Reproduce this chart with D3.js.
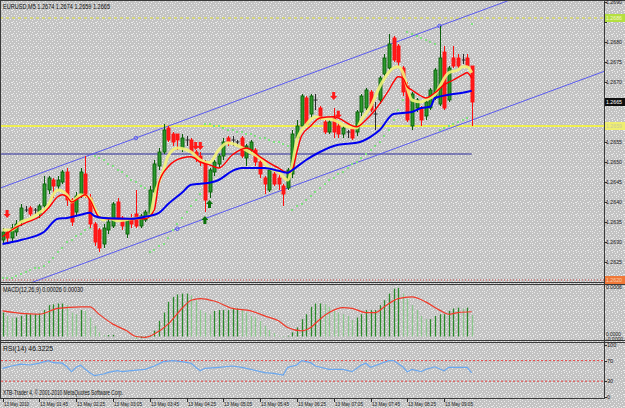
<!DOCTYPE html>
<html>
<head>
<meta charset="utf-8">
<script src="https://cdn.jsdelivr.net/npm/d3@7"></script>
<style>
body{margin:0;padding:0;background:#c4c4c4;}
svg{display:block;}
text{font-family:"Liberation Sans",Arial,sans-serif;}
</style>
</head>
<body>
<div id="chart"></div>
<script>
// ---- data (EURUSD M5, 13 May 2010) ----
var open = [1.26305,1.26325,1.2631,1.26325,1.2635,1.2638,1.26385,1.2638,1.2637,1.2639,
1.2643,1.26455,1.2644,1.2645,1.26475,1.26405,1.26375,1.2642,1.2647,1.2641,
1.26345,1.2633,1.26295,1.2633,1.2634,1.264,1.2636,1.2632,1.2636,1.2637,
1.2634,1.26355,1.2637,1.26425,1.2649,1.26525,1.26585,1.2657,1.2657,1.26535,
1.26555,1.26555,1.26525,1.26515,1.265,1.26425,1.26475,1.26495,1.26515,1.2656,
1.26555,1.2655,1.2656,1.2651,1.2653,1.2653,1.265,1.2646,1.2643,1.2647,
1.2646,1.2644,1.26435,1.2647,1.2656,1.2659,1.2666,1.2662,1.26655,1.26635,
1.266,1.26575,1.2661,1.2659,1.2657,1.26575,1.26585,1.26575,1.26625,1.26635,
1.26675,1.2662,1.26655,1.2672,1.26735,1.2681,1.2679,1.26735,1.2669,1.2659,
1.26635,1.26635,1.26615,1.26635,1.2666,1.26645,1.26775,1.26655,1.2676,1.2676,
1.26755,1.2676,1.2674];
var high = [1.26335,1.2633,1.26345,1.26355,1.26395,1.2639,1.2639,1.26385,1.26395,1.26465,
1.26465,1.2646,1.26465,1.2648,1.26485,1.2641,1.26425,1.26485,1.26515,1.2642,
1.2635,1.26335,1.26345,1.2636,1.264,1.2641,1.26365,1.2636,1.2637,1.2643,
1.2637,1.2638,1.2644,1.26505,1.26535,1.26595,1.2659,1.26575,1.2657,1.2657,
1.26565,1.2656,1.2653,1.26525,1.26505,1.26485,1.26505,1.2652,1.2656,1.26565,
1.26565,1.26555,1.26565,1.26545,1.26555,1.26535,1.26505,1.26465,1.26485,1.26475,
1.2647,1.26445,1.26485,1.2658,1.26605,1.2667,1.26665,1.2667,1.2667,1.2664,
1.26605,1.26605,1.26635,1.266,1.2659,1.2658,1.2659,1.2663,1.2667,1.26685,
1.2668,1.2665,1.26715,1.2677,1.2682,1.26815,1.26795,1.2674,1.267,1.26675,
1.2666,1.2664,1.26655,1.26685,1.26735,1.2684,1.2679,1.2674,1.2679,1.2677,
1.2677,1.2677,1.2674];
var low = [1.26295,1.263,1.263,1.26315,1.2634,1.26375,1.26365,1.2637,1.2636,1.2638,
1.2642,1.2641,1.2643,1.26445,1.2639,1.2634,1.26365,1.2641,1.2641,1.26335,
1.2629,1.26275,1.26285,1.2632,1.26335,1.26355,1.2633,1.2631,1.26335,1.26335,
1.26335,1.2635,1.26365,1.2642,1.2648,1.2652,1.2655,1.2654,1.2653,1.26525,
1.2654,1.2652,1.265,1.2649,1.26375,1.2641,1.26465,1.26485,1.26505,1.2654,
1.2654,1.2654,1.2651,1.2649,1.26525,1.2649,1.2646,1.2642,1.26425,1.2644,
1.2643,1.2639,1.2643,1.2646,1.26555,1.2659,1.2659,1.2661,1.2663,1.26605,
1.2657,1.2657,1.2656,1.2656,1.2656,1.2656,1.26555,1.26565,1.26615,1.2663,
1.26625,1.2658,1.26645,1.2671,1.2673,1.2675,1.2674,1.26665,1.266,1.2658,
1.26625,1.2659,1.26605,1.2663,1.26655,1.2664,1.2663,1.2665,1.26735,1.26735,
1.26745,1.26735,1.2659];
var close = [1.26325,1.2631,1.26335,1.26345,1.26385,1.2638,1.2637,1.2638,1.2639,1.26445,
1.2646,1.2644,1.26455,1.26475,1.26405,1.2635,1.26415,1.26475,1.2642,1.26345,
1.263,1.26285,1.26335,1.2635,1.26395,1.2636,1.2634,1.26355,1.26345,1.2634,
1.26365,1.26375,1.2643,1.26495,1.26525,1.2658,1.26555,1.2655,1.26555,1.2656,
1.26555,1.26525,1.2651,1.265,1.26405,1.2648,1.265,1.26515,1.2655,1.2655,
1.26555,1.2655,1.26515,1.2654,1.2655,1.265,1.2647,1.26445,1.2648,1.26445,
1.26445,1.2642,1.2648,1.2657,1.2659,1.26665,1.26595,1.26665,1.26655,1.2661,
1.26575,1.266,1.26575,1.2657,1.26585,1.26575,1.2656,1.26625,1.26665,1.2668,
1.2663,1.2662,1.2671,1.2676,1.26795,1.26755,1.2675,1.26675,1.26605,1.2667,
1.26655,1.26605,1.2665,1.2668,1.2673,1.2676,1.26635,1.26735,1.2674,1.2674,
1.26755,1.2674,1.2665];

// moving averages, [bar, price] read at the bends
var maFast = [[0,1.2633],[2,1.2633],[4,1.2635],[6,1.26358],[8,1.26373],[10,1.26393],[11,1.26418],[12,1.2643],[14,1.26418],[15,1.264],[17,1.26418],[19,1.2641],[20,1.26385],[22,1.26355],[23,1.2636],[25,1.26353],[28,1.26358],[32,1.26363],[33,1.26415],[35,1.2648],[36,1.26515],[38,1.26535],[41,1.26525],[43,1.26505],[45,1.26498],[47,1.2653],[49,1.26548],[54,1.26523],[56,1.2651],[58,1.26485],[60,1.26475],[62,1.26455],[63,1.26493],[64,1.26555],[66,1.26593],[68,1.26613],[69,1.2661],[72,1.26605],[75,1.26588],[77,1.26585],[78,1.26605],[80,1.26638],[82,1.26688],[84,1.26725],[85,1.26735],[86,1.26738],[87,1.26725],[88,1.26685],[89,1.26655],[91,1.2665],[92,1.26655],[94,1.26668],[95,1.26688],[97,1.26723],[99,1.2673],[100,1.26738],[101,1.26738],[102,1.26723]];
var maMid = [[0,1.26313],[2,1.2633],[5,1.26348],[8,1.26363],[10,1.26385],[12,1.26413],[13,1.26418],[14,1.26413],[15,1.264],[17,1.26413],[18,1.26418],[19,1.26405],[21,1.26363],[23,1.26358],[28,1.26358],[31,1.26358],[33,1.2638],[34,1.26448],[36,1.26488],[39,1.2651],[41,1.26513],[43,1.265],[45,1.26493],[47,1.26485],[50,1.26518],[53,1.26535],[56,1.26513],[58,1.26498],[60,1.26485],[62,1.26473],[63,1.2648],[64,1.26525],[65,1.26565],[67,1.2659],[69,1.2661],[72,1.26613],[77,1.26588],[79,1.26605],[81,1.2663],[84,1.2668],[85,1.267],[86,1.26713],[87,1.2671],[88,1.26688],[89,1.2668],[91,1.26665],[92,1.2666],[94,1.26673],[96,1.26693],[98,1.26705],[100,1.26718],[101,1.26723],[102,1.2671]];
var maSlow = [[0,1.26295],[4,1.26305],[9,1.26325],[12,1.26358],[14,1.2636],[17,1.26368],[19,1.26373],[20,1.26365],[22,1.2636],[28,1.26358],[31,1.26363],[34,1.26373],[36,1.26395],[39,1.26423],[41,1.26443],[45,1.26448],[47,1.26455],[50,1.26478],[52,1.26485],[57,1.26485],[60,1.26478],[62,1.26473],[63,1.2648],[66,1.26505],[69,1.26525],[73,1.26543],[77,1.26548],[80,1.26563],[82,1.2658],[85,1.2662],[89,1.26625],[91,1.26635],[93,1.26638],[94,1.2666],[97,1.26668],[100,1.26673],[102,1.26678]];

// parabolic SAR, one per bar
var sar = [1.2621,1.2621,1.2621,1.26215,1.2622,1.26225,1.2623,1.26235,1.26235,1.2624,
1.2625,1.2626,1.26275,1.26285,1.263,1.26305,1.26315,1.2632,1.2633,1.26335,
1.26515,1.2651,1.26505,1.26495,1.2649,1.2648,1.26475,1.26465,1.26455,1.2645,
1.2644,1.26435,1.26275,1.2628,1.2629,1.26295,1.2631,1.2633,1.26345,1.2636,
1.26375,1.2639,1.26405,1.2642,1.26595,1.26595,1.2659,1.2659,1.26585,1.2658,
1.2658,1.26575,1.26575,1.2657,1.2657,1.26565,1.2656,1.2656,1.26555,1.2655,
1.2655,1.26545,1.2654,1.2638,1.2639,1.26395,1.26405,1.26415,1.26425,1.26435,
1.26445,1.26455,1.2646,1.2647,1.26475,1.26485,1.26495,1.265,1.2651,1.2652,
1.2653,1.2654,1.2655,1.26565,1.2658,1.26605,1.2663,1.26655,1.26825,1.2682,
1.26815,1.2681,1.26805,1.268,1.26795,1.2658,1.26585,1.2659,1.26595,1.266,
1.26605,1.2661,1.26845];

// signal arrows [bar, price]
var sellArrows = [[1,1.2637],[42,1.2654],[43,1.2654],[72,1.26665],[73,1.26618]];
var buyArrows = [[44,1.26355],[45,1.26395]];

// drawn objects
var chanUpper = [[29,1.2656],[95,1.2684]];
var chanLower = [38,1.26333];
var hLine = 1.2652;
var levelDash = 1.2686, levelSolid = 1.2659, levelLow = 1.26205;

// MACD(12,26,9)
var macd = [0.00029,0.00025,0.00023,0.00023,0.00025,0.00027,0.00027,0.00027,0.00028,0.00032,
0.00038,0.00039,0.0004,0.0004,0.00038,0.00029,0.00027,0.00032,0.00031,0.00023,
0.00013,0.00005,0.00002,0.00002,0.00002,0,0,0,0,-0.00003,
-0.00002,-0.00001,0.00001,0.00007,0.00019,0.00029,0.00042,0.00048,0.00051,0.00052,
0.00052,0.0005,0.00044,0.00032,0.00029,0.00027,0.00031,0.00032,0.00032,0.00032,
0.00034,0.00034,0.00032,0.00029,0.00025,0.00023,0.00019,0.00013,0.00008,0.00004,
0.00001,-0.00001,0.00001,0.00005,0.00011,0.00021,0.00027,0.00036,0.0004,0.0004,
0.00039,0.00036,0.00031,0.00029,0.00027,0.00025,0.0002,0.00023,0.00027,0.00032,
0.00032,0.00032,0.00038,0.00044,0.00052,0.00058,0.00059,0.00052,0.00046,0.00038,
0.00032,0.00025,0.00021,0.00021,0.00025,0.00027,0.00027,0.00031,0.00034,0.00035,
0.00034,0.00035,0.00026];
var macdSignal = [[0,0.00031],[4,0.00028],[8,0.00027],[12,0.00034],[17,0.00036],[19,0.00036],[21,0.00027],[24,0.00015],[27,0.00007],[29,0],[31,-0.00001],[33,0.00003],[36,0.00015],[39,0.00034],[41,0.00044],[43,0.00046],[46,0.00043],[50,0.00034],[54,0.00031],[57,0.00025],[60,0.00019],[62,0.00011],[65,0.00007],[67,0.00011],[69,0.00021],[71,0.00029],[74,0.00035],[76,0.00034],[79,0.00029],[81,0.00029],[83,0.00036],[86,0.00046],[89,0.00048],[92,0.00042],[95,0.00032],[97,0.00027],[99,0.00029],[102,0.0003]];

// RSI(14)
var rsi = [[0,55],[2,59.5],[4,63],[6,61.5],[8,65],[10,70],[11,66],[13,65],[14,58],[15,48.5],[16,57],[17,61],[18,53],[19,46.5],[20,40.7],[22,44],[23,47],[25,50.4],[26,48.5],[28,50.4],[31,53],[33,59.5],[35,68],[37,70],[39,68],[41,65],[42,57],[43,50.4],[44,55],[47,57],[50,59.5],[52,57],[54,53],[57,46.5],[59,45],[61,42],[62,57],[64,61.5],[65,70],[67,66],[68,59.5],[71,53],[74,53],[76,48.5],[78,61.5],[79,65],[80,57],[82,63.5],[84,70],[85,70],[87,58],[88,48.5],[89,53],[91,48.5],[92,53],[94,58],[96,50.4],[97,57],[101,57],[102,46.3]];

var priceTicks = [1.2625,1.263,1.2635,1.264,1.2645,1.265,1.2655,1.266,1.2665,1.267,1.2675,1.268,1.2685,1.269];
var timeIdx = [0,8,16,24,32,40,48,56,64,72,80,88,96];
var timeLabels = ["13 May 2010","13 May 01:45","13 May 02:25","13 May 03:05","13 May 03:45","13 May 04:25","13 May 05:05","13 May 05:45","13 May 06:25","13 May 07:05","13 May 07:45","13 May 08:25","13 May 09:05"];

// ---- drawing ----
var W = 625, H = 408, N = close.length;
var svg = d3.select("#chart").append("svg").attr("width", W).attr("height", H);
var defs = svg.append("defs");

// grey stipple background like the terminal screenshot
var pat = defs.append("pattern").attr("id","stip").attr("width",12).attr("height",12).attr("patternUnits","userSpaceOnUse");
pat.append("rect").attr("width",12).attr("height",12).attr("fill","#c3c3c3");
[[0,0],[5,0],[9,1],[3,1],[2,3],[7,2],[11,3],[6,4],[4,5],[0,5],[9,5],[2,7],[10,7],[6,7],[1,9],[8,8],[4,9],[11,10],[7,10],[2,11],[5,11],[9,11],[0,10],[4,3]].forEach(function(p){
  pat.append("rect").attr("x",p[0]).attr("y",p[1]).attr("width",1).attr("height",1).attr("fill","#ececec");
});
svg.append("rect").attr("width",W).attr("height",H).attr("fill","url(#stip)");

var top1 = 1, bot1 = 282, top2 = 284, bot2 = 340, top3 = 342, bot3 = 398, axX = 604;
defs.append("clipPath").attr("id","clipMain").append("rect").attr("x",1).attr("y",top1).attr("width",axX-1).attr("height",bot1-top1);

var x = d3.scaleLinear().domain([0, N-1]).range([2.5, 471.7]);
var y = d3.scaleLinear().domain([1.26205, 1.2690]).range([280, 2]);
var yM = d3.scaleLinear().domain([0, 0.0006]).range([336.5, 287]);
var yR = d3.scaleLinear().domain([0, 100]).range([396.6, 345.2]);

var main = svg.append("g").attr("clip-path","url(#clipMain)");

// levels
main.append("line").attr("x1",0).attr("x2",axX).attr("y1",y(levelDash)).attr("y2",y(levelDash))
  .attr("stroke","#e4e43c").attr("stroke-width",1).attr("stroke-dasharray","3,3");
main.append("line").attr("x1",0).attr("x2",axX).attr("y1",y(levelSolid)).attr("y2",y(levelSolid))
  .attr("stroke","#eeee50").attr("stroke-width",2);
main.append("line").attr("x1",0).attr("x2",axX).attr("y1",y(levelLow)).attr("y2",y(levelLow))
  .attr("stroke","#d04040").attr("stroke-width",1).attr("stroke-dasharray","1,2");
main.append("line").attr("x1",x(-1)).attr("x2",x(N-1)).attr("y1",y(hLine)).attr("y2",y(hLine))
  .attr("stroke","#2a2a9a").attr("stroke-width",1);

// equidistant channel
var slope = (chanUpper[1][1]-chanUpper[0][1])/(chanUpper[1][0]-chanUpper[0][0]);
var chanLines = [chanUpper[0], chanLower];
main.selectAll("line.chan").data(chanLines).enter().append("line")
  .attr("x1", x(-5)).attr("x2", x(140))
  .attr("y1", function(a){ return y(a[1] + slope*(-5-a[0])); })
  .attr("y2", function(a){ return y(a[1] + slope*(140-a[0])); })
  .attr("stroke","#5a5af0").attr("stroke-width",1);
main.selectAll("circle.anchor").data([chanUpper[0], chanUpper[1], chanLower]).enter().append("circle")
  .attr("cx", function(a){ return x(a[0]); }).attr("cy", function(a){ return y(a[1]); })
  .attr("r",1.8).attr("fill","none").attr("stroke","#5a5af0");

// SAR
main.selectAll("rect.sar").data(sar).enter().append("rect")
  .attr("x", function(d,i){ return Math.round(x(i))-1; })
  .attr("y", function(d){ return Math.round(y(d))-1; })
  .attr("width",2).attr("height",2).attr("fill","#7ee07e");

// candles
var bars = d3.range(N);
function col(i){ return close[i] > open[i] ? "bull" : (close[i] < open[i] ? "bear" : "doji"); }
var wickCol = {bull:"#0a600a", bear:"#ff1010", doji:"#2a2a2a"};
main.selectAll("line.wick").data(bars).enter().append("line")
  .attr("x1", function(i){ return Math.round(x(i))+0.5; })
  .attr("x2", function(i){ return Math.round(x(i))+0.5; })
  .attr("y1", function(i){ return y(high[i]); })
  .attr("y2", function(i){ return y(low[i]); })
  .attr("stroke", function(i){ return wickCol[col(i)]; }).attr("stroke-width",1);
main.selectAll("rect.body").data(bars.filter(function(i){ return col(i) != "doji"; })).enter().append("rect")
  .attr("x", function(i){ return Math.round(x(i))-1; })
  .attr("width", 3)
  .attr("y", function(i){ return y(Math.max(open[i],close[i])); })
  .attr("height", function(i){ return Math.max(1, Math.abs(y(open[i])-y(close[i]))); })
  .attr("fill", function(i){ return col(i)=="bull" ? "#2c9a2c" : "#ff1a1a"; })
  .attr("stroke", function(i){ return col(i)=="bull" ? "#0a600a" : "#ff1010"; })
  .attr("stroke-width",0.9);
main.selectAll("line.doji").data(bars.filter(function(i){ return col(i) == "doji"; })).enter().append("line")
  .attr("x1", function(i){ return Math.round(x(i))-1.5; })
  .attr("x2", function(i){ return Math.round(x(i))+2.5; })
  .attr("y1", function(i){ return y(close[i]); })
  .attr("y2", function(i){ return y(close[i]); })
  .attr("stroke","#2a2a2a").attr("stroke-width",1);

// moving averages
var ln = d3.line().x(function(d){ return x(d[0]); }).y(function(d){ return y(d[1]); }).curve(d3.curveMonotoneX);
main.append("path").attr("d", ln(maFast)).attr("fill","none").attr("stroke","#f2f27a").attr("stroke-width",3).attr("stroke-opacity",0.9);
main.append("path").attr("d", ln(maMid)).attr("fill","none").attr("stroke","#ff0000").attr("stroke-width",1.4);
main.append("path").attr("d", ln(maSlow)).attr("fill","none").attr("stroke","#0000f0").attr("stroke-width",2);

// arrows
function arrowPath(cx, cy, dir){
  var p = [[-1.5,-4],[1.5,-4],[1.5,0],[3.5,0],[0,4],[-3.5,0],[-1.5,0]];
  return "M" + p.map(function(q){ return (cx+q[0]) + "," + (cy+q[1]*dir); }).join("L") + "Z";
}
main.selectAll("path.sell").data(sellArrows).enter().append("path")
  .attr("d", function(a){ return arrowPath(x(a[0]), y(a[1]), 1); }).attr("fill","#ff1a1a");
main.selectAll("path.buy").data(buyArrows).enter().append("path")
  .attr("d", function(a){ return arrowPath(x(a[0]), y(a[1]), -1); }).attr("fill","#0a700a");

// MACD panel
svg.selectAll("line.hist").data(macd).enter().append("line")
  .attr("x1", function(d,i){ return Math.round(x(i))+0.5; })
  .attr("x2", function(d,i){ return Math.round(x(i))+0.5; })
  .attr("y1", yM(0)).attr("y2", function(d){ return yM(d); })
  .attr("stroke", function(d,i){ return (i>0 && d < macd[i-1]) ? "#8cc88c" : "#2a8a2a"; })
  .attr("stroke-width",1.3);
var lnM = d3.line().x(function(d){ return x(d[0]); }).y(function(d){ return yM(d[1]); }).curve(d3.curveMonotoneX);
svg.append("path").attr("d", lnM(macdSignal)).attr("fill","none").attr("stroke","#f03a2a").attr("stroke-width",1.2);

// RSI panel
[70,30].forEach(function(v){
  svg.append("line").attr("x1",1).attr("x2",axX).attr("y1",yR(v)).attr("y2",yR(v))
    .attr("stroke","#e84040").attr("stroke-width",1).attr("stroke-dasharray","2,2");
});
var lnR = d3.line().x(function(d){ return x(d[0]); }).y(function(d){ return yR(d[1]); });
svg.append("path").attr("d", lnR(rsi)).attr("fill","none").attr("stroke","#6aa8f0").attr("stroke-width",1.2);

// frames
var fr = svg.append("g").attr("stroke","#3a3a3a").attr("stroke-width",1).attr("shape-rendering","crispEdges");
fr.append("line").attr("x1",0).attr("x2",W).attr("y1",0.5).attr("y2",0.5);
fr.append("line").attr("x1",0.5).attr("x2",0.5).attr("y1",0).attr("y2",bot3+0.5);
fr.append("line").attr("x1",axX+0.5).attr("x2",axX+0.5).attr("y1",0).attr("y2",bot3+0.5);
[bot1, top2, bot2, top3, bot3].forEach(function(v){
  fr.append("line").attr("x1",0).attr("x2",v==bot3 ? axX : W).attr("y1",v+0.5).attr("y2",v+0.5);
});

// right price axis
var fs = "5.6px";
var ax = svg.append("g").attr("font-size",fs).attr("fill","#202020");
var tags = [levelDash, close[N-1], levelSolid, levelLow];
priceTicks.forEach(function(p){
  ax.append("line").attr("x1",axX).attr("x2",axX+3).attr("y1",Math.round(y(p))+0.5).attr("y2",Math.round(y(p))+0.5).attr("stroke","#303030");
  var hidden = tags.some(function(t){ return Math.abs(y(t)-y(p)) < 7; });
  if (!hidden) ax.append("text").attr("x",606).attr("y",y(p)+2).attr("textLength",16).attr("lengthAdjust","spacingAndGlyphs").text(p.toFixed(4));
});
function tag(p, fill, tcol){
  ax.append("rect").attr("x",axX+1).attr("y",y(p)-4).attr("width",W-axX-1).attr("height",8).attr("fill",fill);
  ax.append("text").attr("x",606).attr("y",y(p)+2).attr("fill",tcol).attr("textLength",16).attr("lengthAdjust","spacingAndGlyphs").text(p.toFixed(4));
}
tag(levelDash, "#b4e040", "#f4f4d0");
tag(close[N-1], "#101010", "#ffffff");
tag(levelSolid, "#eeee70", "#c8c8a0");
tag(levelLow, "#f07838", "#f8d0b0");

// macd axis
ax.append("text").attr("x",606).attr("y",yM(0.0006)+2).attr("textLength",16).attr("lengthAdjust","spacingAndGlyphs").text("0.0006");
ax.append("text").attr("x",606).attr("y",yM(0)-1).attr("font-size","5px").attr("textLength",15).attr("lengthAdjust","spacingAndGlyphs").text("0.0000");
ax.append("text").attr("x",606).attr("y",yM(0)+4).attr("font-size","5px").attr("textLength",17).attr("lengthAdjust","spacingAndGlyphs").text("-0.0000");

// rsi axis
[100,70,30,0].forEach(function(v){
  ax.append("line").attr("x1",axX).attr("x2",axX+3).attr("y1",Math.round(yR(v))+0.5).attr("y2",Math.round(yR(v))+0.5).attr("stroke","#303030");
  ax.append("text").attr("x",607).attr("y",yR(v)+2).text(v);
});

// time axis
var tx = svg.append("g").attr("font-size","6.2px").attr("fill","#202020");
timeIdx.forEach(function(idx, k){
  var xx = Math.round(x(idx));
  tx.append("line").attr("x1",xx+0.5).attr("x2",xx+0.5).attr("y1",bot3).attr("y2",bot3+4).attr("stroke","#303030");
  tx.append("text").attr("x",xx+1).attr("y",406).attr("textLength",k==0 ? 25 : 28).attr("lengthAdjust","spacingAndGlyphs").text(timeLabels[k]);
});

// captions
var cap = svg.append("g").attr("font-size","6.5px").attr("fill","#101010");
cap.append("text").attr("x",3).attr("y",8.5).attr("textLength",107).attr("lengthAdjust","spacingAndGlyphs")
  .text("EURUSD,M5  " + [open[N-1],high[N-1],low[N-1],close[N-1]].map(function(v){ return v.toFixed(4); }).join(" "));
cap.append("text").attr("x",3).attr("y",292).attr("textLength",80).attr("lengthAdjust","spacingAndGlyphs").text("MACD(12,26,9) 0.00026 0.00030");
cap.append("text").attr("x",3).attr("y",351).attr("textLength",50).attr("lengthAdjust","spacingAndGlyphs").text("RSI(14) 46.3225");
cap.append("text").attr("x",3).attr("y",395).attr("textLength",120).attr("lengthAdjust","spacingAndGlyphs").text("XTB-Trader 4, \u00a9 2001-2010 MetaQuotes Software Corp.");
</script>
</body>
</html>
